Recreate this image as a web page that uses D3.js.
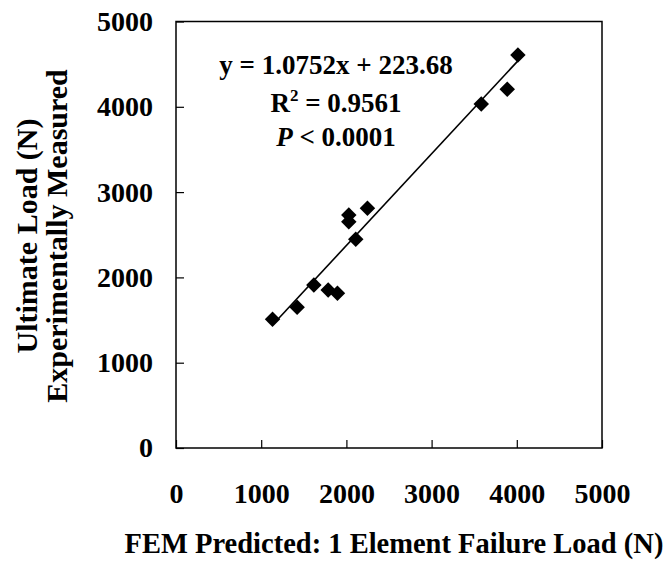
<!DOCTYPE html>
<html>
<head>
<meta charset="utf-8">
<script src="https://cdn.jsdelivr.net/npm/d3@7"></script>
<style>
  html, body { margin: 0; padding: 0; background: #fff; }
  svg { display: block; }
  text { font-family: "Liberation Serif", "Times New Roman", serif; font-weight: bold; fill: #000; }
</style>
</head>
<body>
<svg id="chart" width="666" height="562"></svg>
<script>
// ---- data ----
const femPredicted = [1133, 1422, 1618, 1786, 1895, 2110, 2028, 2028, 2247, 3583, 3888, 4013];
const measured     = [1509, 1649, 1911, 1852, 1813, 2446, 2653, 2731, 2810, 4033, 4205, 4607];
const fitSlope = 1.0752;
const fitIntercept = 223.68;
const xTicks = [0, 1000, 2000, 3000, 4000, 5000];
const yTicks = [0, 1000, 2000, 3000, 4000, 5000];
const xTitle = "FEM Predicted: 1 Element Failure Load (N)";
const yTitleLines = ["Ultimate Load (N)", "Experimentally Measured"];
const eqText = "y = 1.0752x + 223.68";
const r2Text = "0.9561";
const pText = "< 0.0001";

// ---- layout ----
const svg = d3.select("#chart");
const pLeft = 176, pRight = 602, pTop = 21.5, pBottom = 448;
const x = d3.scaleLinear().domain([0, 5000]).range([pLeft, pRight]);
const y = d3.scaleLinear().domain([0, 5000]).range([pBottom, pTop]);

// axes (inward ticks)
const xAxis = d3.axisBottom(x).tickValues(xTicks).tickSize(-8).tickPadding(35).tickFormat(d3.format("d"));
const yAxis = d3.axisLeft(y).tickValues(yTicks).tickSize(-8).tickPadding(23).tickFormat(d3.format("d"));

const gx = svg.append("g").attr("transform", `translate(0,${pBottom})`).call(xAxis);
const gy = svg.append("g").attr("transform", `translate(${pLeft},0)`).call(yAxis);
[gx, gy].forEach(g => {
  g.select(".domain").remove();
  g.selectAll(".tick line").attr("stroke", "#000").attr("stroke-width", 1.2);
  g.selectAll(".tick text")
    .style("font-family", '"Liberation Serif", "Times New Roman", serif')
    .style("font-weight", "bold")
    .style("font-size", "28px")
    .attr("fill", "#000");
});

// frame
svg.append("rect")
  .attr("x", pLeft).attr("y", pTop)
  .attr("width", pRight - pLeft).attr("height", pBottom - pTop)
  .attr("fill", "none").attr("stroke", "#000").attr("stroke-width", 1.5);

// regression line
const xr = d3.extent(femPredicted);
svg.append("line")
  .attr("x1", x(xr[0])).attr("y1", y(fitSlope * xr[0] + fitIntercept))
  .attr("x2", x(xr[1])).attr("y2", y(fitSlope * xr[1] + fitIntercept))
  .attr("stroke", "#000").attr("stroke-width", 1.6);

// points (diamonds)
const sym = d3.symbol().type(d3.symbolSquare).size(120);
svg.append("g").selectAll("path")
  .data(femPredicted.map((d, i) => [d, measured[i]]))
  .join("path")
  .attr("d", sym)
  .attr("transform", d => `translate(${x(d[0])},${y(d[1])}) rotate(45)`)
  .attr("fill", "#000");

// equation text
const cx = 336;
svg.append("text").attr("x", cx).attr("y", 74).attr("text-anchor", "middle")
  .style("font-size", "27px").text(eqText);
const r2 = svg.append("text").attr("x", cx).attr("y", 112).attr("text-anchor", "middle").style("font-size", "27px");
r2.append("tspan").text("R");
r2.append("tspan").attr("dy", -11).style("font-size", "17px").text("2");
r2.append("tspan").attr("dy", 11).text(" = " + r2Text);
const pt = svg.append("text").attr("x", cx).attr("y", 146).attr("text-anchor", "middle").style("font-size", "27px");
pt.append("tspan").style("font-style", "italic").text("P");
pt.append("tspan").text(" " + pText);

// axis titles
svg.append("text").attr("x", 394).attr("y", 553).attr("text-anchor", "middle")
  .style("font-size", "28.5px").text(xTitle);
const ycy = 236;
svg.append("text").attr("transform", `translate(37,${ycy}) rotate(-90)`).attr("text-anchor", "middle")
  .style("font-size", "30px").text(yTitleLines[0]);
svg.append("text").attr("transform", `translate(67,${ycy}) rotate(-90)`).attr("text-anchor", "middle")
  .style("font-size", "30px").text(yTitleLines[1]);
</script>
</body>
</html>
